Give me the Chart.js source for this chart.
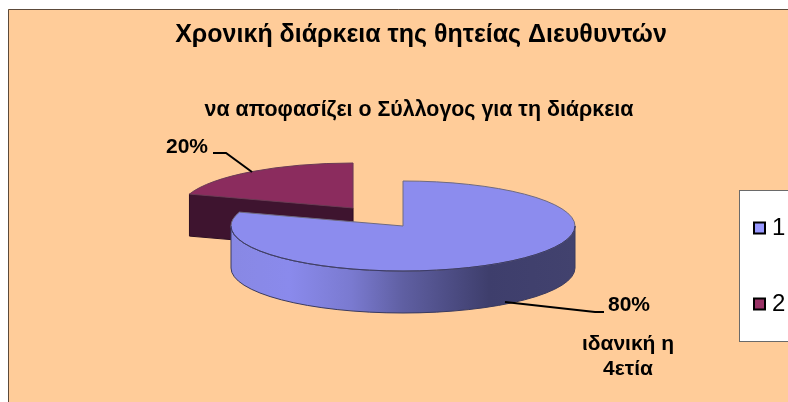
<!DOCTYPE html>
<html>
<head>
<meta charset="utf-8">
<style>
  html, body { margin: 0; padding: 0; background: #fff; overflow: hidden; }
  canvas { display: block; }
</style>
<script src="https://cdn.jsdelivr.net/npm/chart.js@4"></script>
</head>
<body>
<canvas id="thiteia" width="788" height="402"></canvas>
<script>
const categories = ['1', '2'];
const values = [80, 20];
const legendColors = ['#9999ff', '#993366'];
const topColors = ['#8c8cee', '#8b2c5e'];
const titleText = 'Χρονική διάρκεια της θητείας Διευθυντών';
const noteTop = 'να αποφασίζει ο Σύλλογος για τη διάρκεια';
const noteBottom = ['ιδανική η', '4ετία'];

// 3d look of the pie
const squash = 45 / 172;
const depth = 42;
const explode = [0, 85];

const fontFamily = '"Liberation Sans", Arial, sans-serif';

// one side wall, from the edge of the top face down by depth
function drawRim(ctx, cx, cy, r, a0, a1, fill, edge) {
  const ry = r * squash;
  ctx.beginPath();
  ctx.ellipse(cx, cy, r, ry, 0, a0, a1);
  ctx.ellipse(cx, cy + depth, r, ry, 0, a1, a0, true);
  ctx.closePath();
  ctx.fillStyle = fill;
  ctx.fill();
  ctx.strokeStyle = edge;
  ctx.lineWidth = 1;
  ctx.stroke();
}

function drawCutFace(ctx, cx, cy, r, a, fill, edge) {
  const ex = cx + Math.cos(a) * r;
  const ey = cy + Math.sin(a) * r * squash;
  ctx.beginPath();
  ctx.moveTo(cx, cy);
  ctx.lineTo(ex, ey);
  ctx.lineTo(ex, ey + depth);
  ctx.lineTo(cx, cy + depth);
  ctx.closePath();
  ctx.fillStyle = fill;
  ctx.fill();
  ctx.strokeStyle = edge;
  ctx.lineWidth = 1;
  ctx.stroke();
}

function drawSlice(chart, arc, i) {
  const ctx = chart.ctx;
  const { x, y, startAngle, endAngle, outerRadius } = arc;
  const r = outerRadius;
  const mid = (startAngle + endAngle) / 2;
  const cx = x + Math.cos(mid) * explode[i];
  const cy = y + Math.sin(mid) * explode[i] * squash;
  // only the front half of the rim can be seen
  const a0 = Math.max(startAngle, 0);
  const a1 = Math.min(endAngle, Math.PI);

  if (i === 0) {
    const g = ctx.createLinearGradient(cx - r, 0, cx + r, 0);
    g.addColorStop(0, '#8888e4');
    g.addColorStop(0.17, '#8a8aec');
    g.addColorStop(0.35, '#7a7ad0');
    g.addColorStop(0.5, '#5f5fa2');
    g.addColorStop(0.75, '#3e3e6c');
    g.addColorStop(1, '#42426e');
    if (a1 > a0) drawRim(ctx, cx, cy, r, a0, a1, g, '#3a3a5e');
  } else if (Math.sin(startAngle - Math.PI / 2) > 0.01) {
    drawCutFace(ctx, cx, cy, r, startAngle, '#3e142f', '#2c0e22');
  }

  ctx.beginPath();
  ctx.moveTo(cx, cy);
  ctx.ellipse(cx, cy, r, r * squash, 0, startAngle, endAngle);
  ctx.closePath();
  ctx.fillStyle = topColors[i];
  ctx.fill();
  ctx.strokeStyle = i === 0 ? '#6f6a80' : '#6b3a55';
  ctx.lineWidth = 1;
  ctx.stroke();

  // darker line where the top face meets the rim
  if (i === 0 && a1 > a0) {
    ctx.beginPath();
    ctx.ellipse(cx, cy, r, r * squash, 0, a0, a1);
    ctx.strokeStyle = '#3a3a6a';
    ctx.stroke();
  }
}

function drawLeader(ctx, pts) {
  ctx.beginPath();
  ctx.moveTo(pts[0][0], pts[0][1]);
  pts.slice(1).forEach(p => ctx.lineTo(p[0], p[1]));
  ctx.strokeStyle = '#000';
  ctx.lineWidth = 2;
  ctx.stroke();
}

const pie3d = {
  id: 'pie3d',
  beforeDraw(chart) {
    const ctx = chart.ctx;
    ctx.save();
    ctx.fillStyle = '#ffcc99';
    ctx.fillRect(8, 9, 780, 393);
    ctx.strokeStyle = '#5c4a3a';
    ctx.lineWidth = 1;
    ctx.beginPath();
    ctx.moveTo(8.5, 402);
    ctx.lineTo(8.5, 9.5);
    ctx.lineTo(788, 9.5);
    ctx.stroke();
    // legend frame
    ctx.fillStyle = '#fff';
    ctx.fillRect(739.5, 190.5, 60, 151);
    ctx.strokeStyle = '#6a6a6a';
    ctx.strokeRect(739.5, 190.5, 60, 151);
    ctx.restore();
  },
  afterLayout(chart) {
    const lg = chart.legend;
    lg.left = 707;
    lg.right = 788;
    lg.top = 164;
    lg.bottom = 402;
  },
  beforeDatasetsDraw(chart) {
    const arcs = chart.getDatasetMeta(0).data;
    const ctx = chart.ctx;
    ctx.save();
    // the exploded slice sits behind the big one
    drawSlice(chart, arcs[1], 1);
    drawSlice(chart, arcs[0], 0);
    ctx.restore();
    return false;
  },
  afterDraw(chart) {
    const ctx = chart.ctx;
    ctx.save();
    drawLeader(ctx, [[213, 153], [226, 153], [252, 172]]);
    drawLeader(ctx, [[505, 302], [595, 312], [604, 312]]);
    ctx.fillStyle = '#000';
    ctx.textAlign = 'center';
    ctx.textBaseline = 'middle';
    ctx.font = 'bold 21px ' + fontFamily;
    ctx.fillText(values[1] + '%', 187, 147);
    ctx.fillText(values[0] + '%', 629, 305);
    ctx.fillText(noteBottom[0], 628, 344);
    ctx.fillText(noteBottom[1], 628, 369);
    ctx.font = 'bold 21.4px ' + fontFamily;
    ctx.fillText(noteTop, 419, 110);
    ctx.restore();
  }
};

new Chart(document.getElementById('thiteia'), {
  type: 'pie',
  data: {
    labels: categories,
    datasets: [{
      data: values,
      backgroundColor: legendColors,
      borderColor: '#000',
      borderWidth: 2,
      radius: 172
    }]
  },
  options: {
    responsive: false,
    animation: false,
    layout: { padding: { left: 54, right: 0, top: 0, bottom: 0 } },
    plugins: {
      tooltip: { enabled: false },
      title: {
        display: true,
        text: titleText,
        color: '#000',
        font: { family: fontFamily, size: 25, weight: 'bold', lineHeight: 1.2 },
        padding: { top: 20, bottom: 0 }
      },
      legend: {
        position: 'right',
        align: 'start',
        maxWidth: 36,
        labels: {
          usePointStyle: true,
          pointStyle: 'rect',
          boxWidth: 1,
          boxHeight: 11,
          padding: 52,
          color: '#000',
          font: { family: fontFamily, size: 24 }
        }
      }
    }
  },
  plugins: [pie3d]
});
</script>
</body>
</html>
